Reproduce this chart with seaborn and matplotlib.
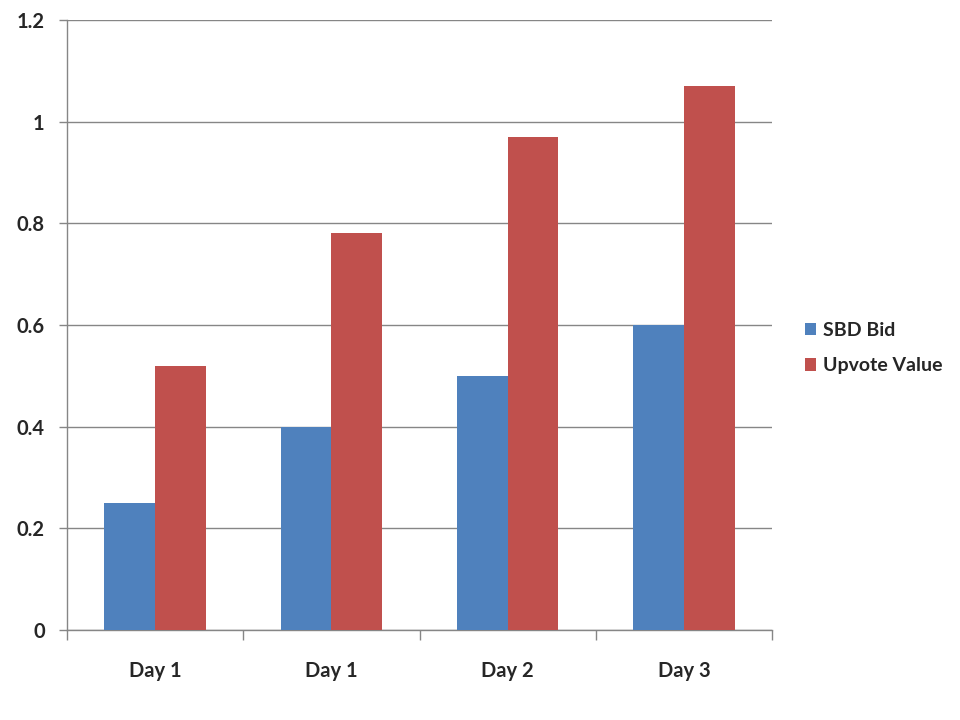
import pandas as pd
import seaborn as sns
import matplotlib.pyplot as plt

days = ["Day 1", "Day 1", "Day 2", "Day 3"]
sbd_bid = [0.25, 0.40, 0.50, 0.60]
upvote_value = [0.52, 0.78, 0.97, 1.07]

df = pd.DataFrame({
    "pos": list(range(len(days))) * 2,
    "value": sbd_bid + upvote_value,
    "series": ["SBD Bid"] * len(days) + ["Upvote Value"] * len(days),
})

sns.set_theme(style="white")
plt.rcParams["font.family"] = ["Lato", "DejaVu Sans"]

fig = plt.figure(figsize=(9.6, 7.2), dpi=100)
ax = fig.add_axes([67 / 960, 1 - 630 / 720, (772 - 67) / 960, 610 / 720])

sns.barplot(
    data=df, x="pos", y="value", hue="series",
    palette=["#4F81BD", "#C0504D"], width=0.575,
    saturation=1, linewidth=0, ax=ax, zorder=3,
)

ax.set_xlim(-0.5, len(days) - 0.5)
ax.set_ylim(0, 1.2)
ax.set_yticks([0, 0.2, 0.4, 0.6, 0.8, 1.0, 1.2])
ax.set_yticklabels(["0", "0.2", "0.4", "0.6", "0.8", "1", "1.2"])
ax.set_xticks(range(len(days)))
ax.set_xticklabels(days)
ax.set_xticks([i - 0.5 for i in range(len(days) + 1)], minor=True)
ax.set_xlabel("")
ax.set_ylabel("")

ax.grid(axis="y", color="#868686", linewidth=1, zorder=0)
ax.set_axisbelow(True)
for s in ["top", "right"]:
    ax.spines[s].set_visible(False)
for s in ["left", "bottom"]:
    ax.spines[s].set_color("#868686")
    ax.spines[s].set_linewidth(1)

ax.tick_params(axis="x", which="major", length=0, pad=22, labelsize=14.5)
ax.tick_params(axis="x", which="minor", length=7, color="#868686", width=1, bottom=True, direction="out")
ax.tick_params(axis="y", length=6, color="#868686", width=1, left=True, direction="out", pad=10, labelsize=14.5)
for lbl in ax.get_xticklabels() + ax.get_yticklabels():
    lbl.set_fontweight("bold")

handles, labels = ax.get_legend_handles_labels()
ax.legend(
    handles, labels, loc="center left", bbox_to_anchor=(787 / 960, 1 - 348 / 720),
    bbox_transform=fig.transFigure, frameon=False,
    prop={"weight": "bold", "size": 14}, handlelength=0.6, handleheight=0.6,
    handletextpad=0.35, labelspacing=0.95,
)

fig.savefig("out.png", dpi=100)
